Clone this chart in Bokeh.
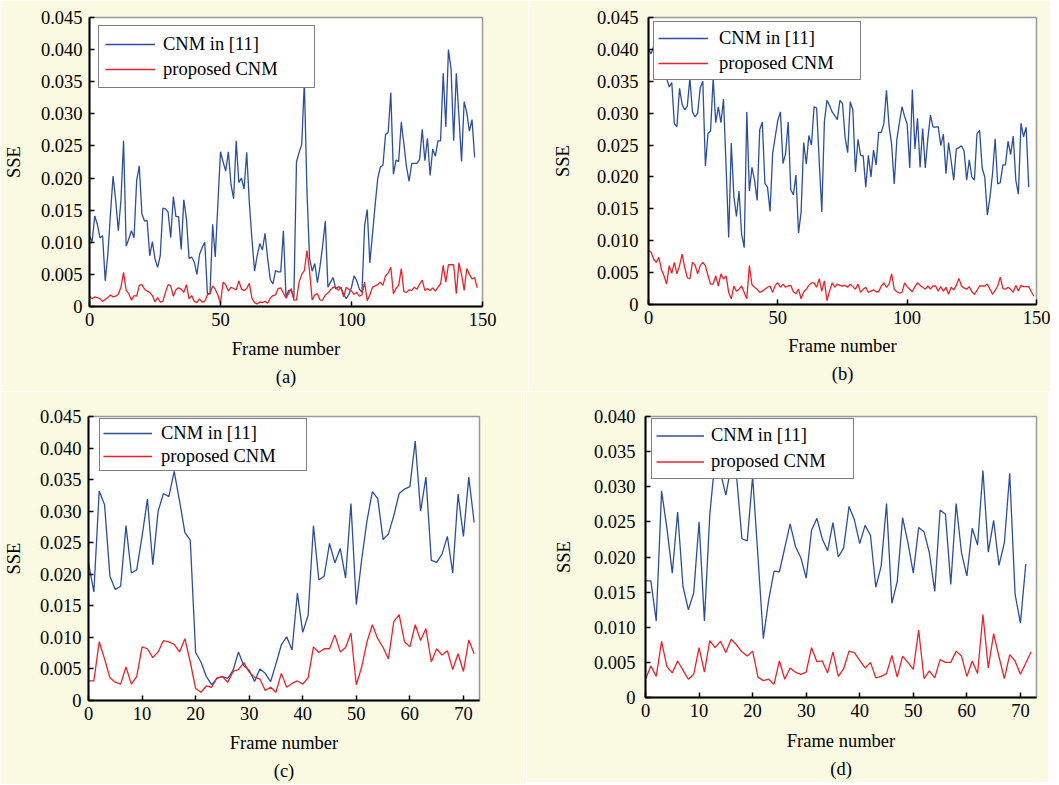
from bokeh.plotting import figure
from bokeh.layouts import column, row
from bokeh.models import (Range1d, FixedTicker, CustomJSTickFormatter, Legend,
                          LegendItem, Title)
from bokeh.embed import file_html
from bokeh.resources import INLINE

# ---------------- data ----------------
legend_labels = ["CNM in [11]", "proposed CNM"]
captions = ["(a)", "(b)", "(c)", "(d)"]
x_label = "Frame number"
y_label = "SSE"

blue_a = [0.0110, 0.0101, 0.0141, 0.0128, 0.0107, 0.0110, 0.0040, 0.0081, 0.0144, 0.0203,
          0.0165, 0.0118, 0.0165, 0.0258, 0.0094, 0.0105, 0.0118, 0.0107, 0.0196, 0.0219,
          0.0144, 0.0133, 0.0134, 0.0079, 0.0101, 0.0074, 0.0061, 0.0079, 0.0153, 0.0152,
          0.0147, 0.0107, 0.0171, 0.0140, 0.0140, 0.0089, 0.0166, 0.0136, 0.0075, 0.0077,
          0.0069, 0.0050, 0.0081, 0.0092, 0.0100, 0.0020, 0.0020, 0.0128, 0.0077, 0.0160,
          0.0241, 0.0225, 0.0211, 0.0241, 0.0190, 0.0168, 0.0258, 0.0193, 0.0200, 0.0183,
          0.0240, 0.0162, 0.0105, 0.0055, 0.0079, 0.0098, 0.0088, 0.0114, 0.0075, 0.0042,
          0.0035, 0.0056, 0.0054, 0.0054, 0.0118, 0.0015, 0.0025, 0.0025, 0.0013, 0.0225,
          0.0240, 0.0252, 0.0350, 0.0180, 0.0075, 0.0055, 0.0067, 0.0037, 0.0063, 0.0095,
          0.0133, 0.0030, 0.0038, 0.0045, 0.0027, 0.0031, 0.0029, 0.0019, 0.0012, 0.0019,
          0.0030, 0.0048, 0.0040, 0.0027, 0.0022, 0.0126, 0.0151, 0.0068, 0.0112, 0.0157,
          0.0199, 0.0217, 0.0220, 0.0268, 0.0271, 0.0333, 0.0206, 0.0228, 0.0226, 0.0287,
          0.0253, 0.0217, 0.0195, 0.0223, 0.0223, 0.0223, 0.0229, 0.0276, 0.0227, 0.0262,
          0.0204, 0.0245, 0.0234, 0.0258, 0.0258, 0.0363, 0.0280, 0.0400, 0.0370, 0.0258,
          0.0363, 0.0297, 0.0226, 0.0319, 0.0302, 0.0273, 0.0291, 0.0232]
red_a = [0.0016, 0.0012, 0.0015, 0.0014, 0.0012, 0.0008, 0.0011, 0.0014, 0.0018, 0.0015,
         0.0016, 0.0019, 0.0030, 0.0053, 0.0025, 0.0020, 0.0010, 0.0017, 0.0016, 0.0033,
         0.0034, 0.0027, 0.0024, 0.0022, 0.0017, 0.0007, 0.0014, 0.0007, 0.0008, 0.0022,
         0.0034, 0.0032, 0.0016, 0.0026, 0.0029, 0.0027, 0.0022, 0.0034, 0.0012, 0.0017,
         0.0008, 0.0006, 0.0012, 0.0007, 0.0008, 0.0018, 0.0020, 0.0032, 0.0027, 0.0018,
         0.0005, 0.0038, 0.0034, 0.0024, 0.0030, 0.0028, 0.0026, 0.0040, 0.0027, 0.0025,
         0.0028, 0.0036, 0.0013, 0.0006, 0.0004, 0.0007, 0.0006, 0.0008, 0.0005, 0.0013,
         0.0017, 0.0018, 0.0028, 0.0029, 0.0021, 0.0013, 0.0020, 0.0028, 0.0010, 0.0010,
         0.0038, 0.0050, 0.0056, 0.0087, 0.0055, 0.0010, 0.0018, 0.0020, 0.0010, 0.0010,
         0.0018, 0.0021, 0.0026, 0.0030, 0.0030, 0.0025, 0.0030, 0.0015, 0.0030, 0.0027,
         0.0024, 0.0019, 0.0022, 0.0016, 0.0018, 0.0038, 0.0009, 0.0018, 0.0030, 0.0032,
         0.0034, 0.0038, 0.0033, 0.0048, 0.0052, 0.0061, 0.0020, 0.0028, 0.0033, 0.0059,
         0.0023, 0.0022, 0.0026, 0.0025, 0.0030, 0.0027, 0.0035, 0.0041, 0.0025, 0.0028,
         0.0025, 0.0029, 0.0024, 0.0030, 0.0035, 0.0064, 0.0038, 0.0065, 0.0065, 0.0065,
         0.0020, 0.0068, 0.0050, 0.0025, 0.0059, 0.0050, 0.0043, 0.0045, 0.0029]

blue_b = [0.0400, 0.0393, 0.0405, 0.0385, 0.0375, 0.0365, 0.0372, 0.0355, 0.0341, 0.0348,
          0.0283, 0.0279, 0.0339, 0.0314, 0.0305, 0.0311, 0.0355, 0.0302, 0.0294, 0.0300,
          0.0340, 0.0350, 0.0217, 0.0268, 0.0272, 0.0355, 0.0285, 0.0310, 0.0285, 0.0322,
          0.0215, 0.0105, 0.0253, 0.0170, 0.0138, 0.0178, 0.0110, 0.0089, 0.0302, 0.0178,
          0.0215, 0.0195, 0.0163, 0.0274, 0.0286, 0.0190, 0.0184, 0.0146, 0.0237, 0.0263,
          0.0289, 0.0302, 0.0221, 0.0237, 0.0286, 0.0180, 0.0172, 0.0203, 0.0112, 0.0145,
          0.0254, 0.0220, 0.0265, 0.0250, 0.0310, 0.0308, 0.0225, 0.0145, 0.0287, 0.0320,
          0.0312, 0.0302, 0.0296, 0.0290, 0.0320, 0.0315, 0.0262, 0.0238, 0.0318, 0.0305,
          0.0208, 0.0259, 0.0234, 0.0233, 0.0184, 0.0234, 0.0200, 0.0242, 0.0219, 0.0270,
          0.0270, 0.0284, 0.0336, 0.0280, 0.0251, 0.0189, 0.0258, 0.0285, 0.0310, 0.0295,
          0.0283, 0.0214, 0.0337, 0.0244, 0.0292, 0.0215, 0.0276, 0.0214, 0.0260, 0.0297,
          0.0278, 0.0278, 0.0279, 0.0249, 0.0267, 0.0205, 0.0254, 0.0225, 0.0195, 0.0244,
          0.0246, 0.0249, 0.0241, 0.0195, 0.0227, 0.0200, 0.0195, 0.0268, 0.0273, 0.0214,
          0.0200, 0.0140, 0.0168, 0.0205, 0.0260, 0.0189, 0.0191, 0.0219, 0.0219, 0.0256,
          0.0235, 0.0264, 0.0195, 0.0173, 0.0284, 0.0263, 0.0278, 0.0184]
red_b = [0.0085, 0.0082, 0.0071, 0.0066, 0.0074, 0.0055, 0.0045, 0.0032, 0.0061, 0.0049,
         0.0066, 0.0048, 0.0061, 0.0079, 0.0058, 0.0042, 0.0040, 0.0066, 0.0062, 0.0048,
         0.0061, 0.0066, 0.0061, 0.0045, 0.0032, 0.0032, 0.0045, 0.0029, 0.0048, 0.0040,
         0.0045, 0.0019, 0.0009, 0.0029, 0.0021, 0.0024, 0.0029, 0.0019, 0.0009, 0.0061,
         0.0031, 0.0027, 0.0024, 0.0019, 0.0021, 0.0024, 0.0027, 0.0029, 0.0019, 0.0030,
         0.0034, 0.0027, 0.0032, 0.0027, 0.0029, 0.0030, 0.0020, 0.0017, 0.0024, 0.0009,
         0.0020, 0.0024, 0.0030, 0.0034, 0.0034, 0.0027, 0.0040, 0.0021, 0.0037, 0.0006,
         0.0021, 0.0034, 0.0027, 0.0032, 0.0030, 0.0029, 0.0030, 0.0027, 0.0032, 0.0028,
         0.0024, 0.0032, 0.0019, 0.0024, 0.0027, 0.0019, 0.0021, 0.0023, 0.0020, 0.0020,
         0.0029, 0.0034, 0.0027, 0.0032, 0.0048, 0.0024, 0.0020, 0.0018, 0.0019, 0.0034,
         0.0028, 0.0024, 0.0020, 0.0028, 0.0034, 0.0030, 0.0027, 0.0024, 0.0029, 0.0024,
         0.0029, 0.0029, 0.0021, 0.0028, 0.0021, 0.0027, 0.0016, 0.0027, 0.0023, 0.0030,
         0.0041, 0.0029, 0.0026, 0.0024, 0.0028, 0.0020, 0.0016, 0.0022, 0.0029, 0.0029,
         0.0029, 0.0032, 0.0024, 0.0016, 0.0022, 0.0029, 0.0043, 0.0025, 0.0024, 0.0027,
         0.0024, 0.0019, 0.0030, 0.0021, 0.0030, 0.0028, 0.0028, 0.0028, 0.0020, 0.0013]

blue_c = [0.0218, 0.0172, 0.0332, 0.0310, 0.0197, 0.0176, 0.0181, 0.0277, 0.0202, 0.0207,
          0.0260, 0.0319, 0.0215, 0.0300, 0.0328, 0.0323, 0.0363, 0.0316, 0.0266, 0.0254,
          0.0076, 0.0061, 0.0038, 0.0025, 0.0035, 0.0038, 0.0035, 0.0048, 0.0077, 0.0055,
          0.0048, 0.0030, 0.0050, 0.0043, 0.0030, 0.0058, 0.0088, 0.0101, 0.0080, 0.0170,
          0.0108, 0.0135, 0.0277, 0.0191, 0.0197, 0.0249, 0.0218, 0.0241, 0.0194, 0.0312,
          0.0152, 0.0223, 0.0285, 0.0331, 0.0320, 0.0255, 0.0264, 0.0293, 0.0328, 0.0335,
          0.0339, 0.0411, 0.0300, 0.0354, 0.0222, 0.0219, 0.0232, 0.0260, 0.0202, 0.0327,
          0.0260, 0.0354, 0.0282]
red_c = [0.0031, 0.0031, 0.0093, 0.0066, 0.0036, 0.0029, 0.0026, 0.0053, 0.0026, 0.0038,
         0.0085, 0.0082, 0.0068, 0.0077, 0.0095, 0.0093, 0.0089, 0.0077, 0.0098, 0.0061,
         0.0019, 0.0013, 0.0023, 0.0021, 0.0036, 0.0038, 0.0029, 0.0046, 0.0049, 0.0060,
         0.0045, 0.0037, 0.0034, 0.0016, 0.0021, 0.0013, 0.0043, 0.0021, 0.0027, 0.0031,
         0.0026, 0.0036, 0.0085, 0.0076, 0.0082, 0.0082, 0.0104, 0.0077, 0.0084, 0.0107,
         0.0025, 0.0053, 0.0093, 0.0120, 0.0098, 0.0084, 0.0066, 0.0125, 0.0136, 0.0093,
         0.0085, 0.0120, 0.0095, 0.0114, 0.0061, 0.0082, 0.0072, 0.0079, 0.0049, 0.0074,
         0.0046, 0.0096, 0.0074]

blue_d = [0.0166, 0.0166, 0.0109, 0.0294, 0.0241, 0.0177, 0.0264, 0.0158, 0.0125, 0.0149,
          0.0250, 0.0109, 0.0260, 0.0340, 0.0320, 0.0288, 0.0330, 0.0315, 0.0226, 0.0223,
          0.0315, 0.0200, 0.0084, 0.0139, 0.0180, 0.0179, 0.0213, 0.0247, 0.0215, 0.0199,
          0.0170, 0.0238, 0.0255, 0.0226, 0.0209, 0.0249, 0.0200, 0.0213, 0.0272, 0.0253,
          0.0219, 0.0245, 0.0231, 0.0157, 0.0187, 0.0276, 0.0134, 0.0165, 0.0256, 0.0220,
          0.0177, 0.0242, 0.0236, 0.0206, 0.0151, 0.0267, 0.0261, 0.0161, 0.0276, 0.0206,
          0.0173, 0.0241, 0.0217, 0.0323, 0.0207, 0.0252, 0.0188, 0.0220, 0.0319, 0.0147,
          0.0106, 0.0190]
red_d = [0.0026, 0.0045, 0.0030, 0.0080, 0.0044, 0.0035, 0.0052, 0.0039, 0.0026, 0.0033,
         0.0071, 0.0036, 0.0081, 0.0071, 0.0080, 0.0064, 0.0083, 0.0075, 0.0065, 0.0059,
         0.0066, 0.0029, 0.0024, 0.0026, 0.0019, 0.0052, 0.0026, 0.0042, 0.0036, 0.0033,
         0.0036, 0.0071, 0.0051, 0.0052, 0.0035, 0.0065, 0.0030, 0.0041, 0.0066, 0.0064,
         0.0053, 0.0042, 0.0050, 0.0028, 0.0030, 0.0034, 0.0060, 0.0029, 0.0059, 0.0050,
         0.0040, 0.0096, 0.0027, 0.0038, 0.0028, 0.0054, 0.0050, 0.0050, 0.0066, 0.0059,
         0.0030, 0.0052, 0.0034, 0.0118, 0.0042, 0.0091, 0.0058, 0.0027, 0.0061, 0.0052,
         0.0033, 0.0049, 0.0065]

x_ticks_long = [0, 50, 100, 150]
x_ticks_short = [0, 10, 20, 30, 40, 50, 60, 70]
y_ticks_045 = [0, 0.005, 0.01, 0.015, 0.02, 0.025, 0.03, 0.035, 0.04, 0.045]
y_ticks_040 = [0, 0.005, 0.01, 0.015, 0.02, 0.025, 0.03, 0.035, 0.04]

# ---------------- style ----------------
BG = "#FAF9E2"
BLUE = "#2C4E9E"
RED = "#E8232A"
FONT = "Liberation Serif"
FS = "18.5px"


def make_panel(blue, red, xmax, ymax, xticks, yticks, caption, L):
    p = figure(frame_width=L["fw"], frame_height=L["fh"],
               min_border_left=L["bl"], min_border_right=L["br"],
               min_border_top=L["bt"], min_border_bottom=L["bb"],
               x_range=Range1d(0, xmax), y_range=Range1d(0, ymax),
               output_backend="svg", toolbar_location=None)
    p.background_fill_color = "white"
    p.border_fill_color = BG
    p.outline_line_color = "#9a9a9a"
    p.outline_line_width = 1.5
    p.xgrid.visible = False
    p.ygrid.visible = False

    rb = p.line(list(range(len(blue))), blue, line_color=BLUE, line_width=1.3)
    rr = p.line(list(range(len(red))), red, line_color=RED, line_width=1.3)

    for ax in (p.xaxis[0], p.yaxis[0]):
        ax.axis_line_color = "black"
        ax.axis_line_width = 2
        ax.major_tick_in = 5
        ax.major_tick_out = 0
        ax.major_tick_line_color = "black"
        ax.major_tick_line_width = 1.5
        ax.minor_tick_in = 0
        ax.minor_tick_out = 0
        ax.major_label_text_font = FONT
        ax.major_label_text_font_size = FS
        ax.major_label_text_color = "black"
        ax.axis_label_text_font = FONT
        ax.axis_label_text_font_size = FS
        ax.axis_label_text_font_style = "normal"
        ax.axis_label_text_color = "black"

    p.xaxis.ticker = FixedTicker(ticks=xticks, minor_ticks=[])
    p.yaxis.ticker = FixedTicker(ticks=yticks, minor_ticks=[])
    p.yaxis.formatter = CustomJSTickFormatter(
        code="return tick == 0 ? '0' : tick.toFixed(3);")
    p.xaxis.axis_label = x_label
    p.yaxis.axis_label = y_label
    p.xaxis.major_label_standoff = L["xls"]
    p.yaxis.major_label_standoff = L["yls"]
    p.xaxis.axis_label_standoff = L["xas"]
    p.yaxis.axis_label_standoff = L["yas"]

    legend = Legend(
        items=[LegendItem(label=legend_labels[0], renderers=[rb]),
               LegendItem(label=legend_labels[1], renderers=[rr])],
        location=L["loc"], margin=0,
        border_line_color="black", border_line_width=1.5,
        background_fill_color="white", background_fill_alpha=1.0,
        label_text_font=FONT, label_text_font_size=FS, label_text_color="black",
        padding=L["pad"], spacing=L["sp"],
        glyph_width=L["gw"], glyph_height=L["rh"], label_height=L["rh"],
        label_width=L["lw"], label_standoff=L["lst"])
    p.add_layout(legend)

    t = Title(text=caption, align="center", text_font=FONT, text_font_size=FS,
              text_font_style="normal", text_color="black", standoff=L["ts"])
    p.add_layout(t, "below")
    return p


La = dict(fw=393, fh=289, bl=82, br=46, bt=16, bb=86, xls=6, yls=7, xas=10, yas=14,
          loc=(9, 218), pad=6, sp=1, gw=50, rh=24, lw=145, lst=8, ts=7)
Lb = dict(fw=388, fh=287, bl=120, br=14, bt=17, bb=87, xls=6, yls=10, xas=9, yas=21,
          loc=(5, 224), pad=4, sp=1, gw=50, rh=24, lw=137, lst=11, ts=7)
Lc = dict(fw=391, fh=284, bl=83, br=47, bt=25, bb=74, xls=6, yls=7, xas=10, yas=13,
          loc=(11, 229), pad=3, sp=1, gw=49, rh=22, lw=142, lst=9, ts=7)
Ld = dict(fw=391, fh=281, bl=119, br=12, bt=25, bb=77, xls=6, yls=10, xas=11, yas=17,
          loc=(6, 218), pad=4, sp=1, gw=48, rh=25, lw=138, lst=7, ts=7)

pa = make_panel(blue_a, red_a, 150, 0.045, x_ticks_long, y_ticks_045, captions[0], La)
pb = make_panel(blue_b, red_b, 150, 0.045, x_ticks_long, y_ticks_045, captions[1], Lb)
pc = make_panel(blue_c, red_c, 73, 0.045, x_ticks_short, y_ticks_045, captions[2], Lc)
pd = make_panel(blue_d, red_d, 73, 0.040, x_ticks_short, y_ticks_040, captions[3], Ld)

layout = column(row(pa, pb), row(pc, pd))
open("out.html", "w").write(file_html(layout, INLINE))
